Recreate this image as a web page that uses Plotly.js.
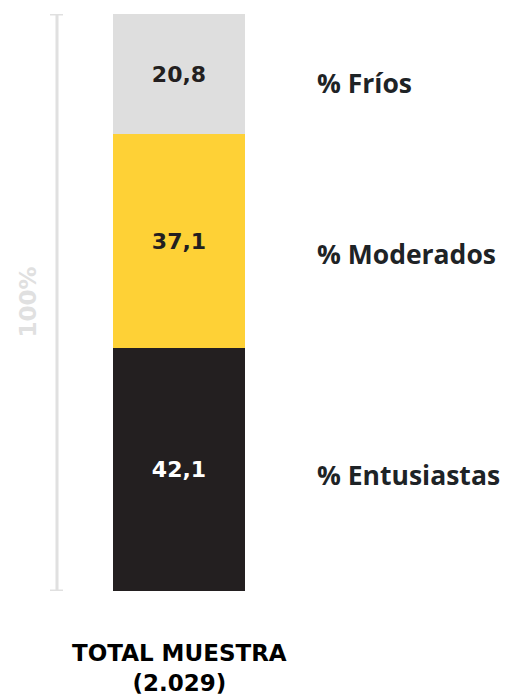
<!DOCTYPE html>
<html>
<head>
<meta charset="utf-8">
<script src="https://cdn.plot.ly/plotly-3.0.1.min.js"></script>
<style>html,body{margin:0;padding:0;background:#fff;}#chart{width:508px;height:698px;}</style>
</head>
<body>
<div id="chart"></div>
<script>
// Data
const category = ["TOTAL MUESTRA"];
const sampleSize = "(2.029)";
const seriesNames = ["% Entusiastas", "% Moderados", "% Fríos"];
const seriesValues = [42.1, 37.1, 20.8];
const seriesColors = ["#231f20", "#fed136", "#dedede"];
const textColors = ["#ffffff", "#231f20", "#231f20"];
const totalLabel = "100%";

const heavyFamily = "'DejaVu Sans', sans-serif";

const traces = seriesNames.map((name, i) => ({
  type: "bar",
  name: name,
  x: category,
  y: [seriesValues[i]],
  width: 1,
  marker: {color: seriesColors[i], line: {width: 0}},
  texttemplate: "%{y:.1f}",
  textposition: "inside",
  insidetextanchor: "middle",
  textangle: 0,
  constraintext: "none",
  textfont: {family: heavyFamily, weight: 700, size: 22, color: textColors[i]},
  hoverinfo: "skip"
}));

// label annotations for each series, at segment centers
const annotations = [];
let cum = 0;
const yShifts = [-5, -13, -9];
seriesNames.forEach((name, i) => {
  const center = cum + seriesValues[i] / 2;
  cum += seriesValues[i];
  annotations.push({
    xref: "paper", yref: "y", x: 315 / 508, y: center,
    xanchor: "left", yanchor: "middle", yshift: yShifts[i],
    text: name, showarrow: false,
    font: {family: "'Open Sans', 'Noto Sans', sans-serif", weight: 700, size: 26.5, color: "#1e2326"}
  });
});

annotations.push({
  xref: "x", yref: "y", x: category[0], y: 0,
  xanchor: "center", yanchor: "top", yshift: -47,
  text: category[0] + "<br>" + sampleSize, showarrow: false,
  font: {family: heavyFamily, weight: 700, size: 23, color: "#000000"}
});

annotations.push({
  xref: "paper", yref: "y", x: 27 / 508, y: 50,
  xanchor: "center", yanchor: "middle", textangle: -90,
  text: totalLabel, showarrow: false,
  font: {family: heavyFamily, weight: 700, size: 23, color: "#e0e0e0"}
});

const bx = 57 / 508;
const shapes = [
  {type: "line", xref: "paper", yref: "y", x0: bx, x1: bx, y0: 0, y1: 100, line: {color: "#e0e0e0", width: 3}},
  {type: "line", xref: "paper", yref: "y", x0: 50 / 508, x1: 63 / 508, y0: 100, y1: 100, line: {color: "#e0e0e0", width: 3}},
  {type: "line", xref: "paper", yref: "y", x0: 50 / 508, x1: 63 / 508, y0: 0, y1: 0, line: {color: "#e0e0e0", width: 3}}
];

// bar spans 113..245 px (width 132 px per category unit), center 179 px
const unit = 132;
const layout = {
  width: 508, height: 698,
  margin: {l: 0, r: 0, t: 14, b: 107, pad: 0},
  paper_bgcolor: "#ffffff", plot_bgcolor: "#ffffff",
  barmode: "stack",
  separators: ",.",
  showlegend: false,
  xaxis: {visible: false, range: [-179 / unit, (508 - 179) / unit], fixedrange: true},
  yaxis: {visible: false, range: [0, 100], fixedrange: true},
  annotations: annotations,
  shapes: shapes,
  uniformtext: {mode: false}
};

Plotly.newPlot("chart", traces, layout, {displayModeBar: false, staticPlot: true});
</script>
</body>
</html>
